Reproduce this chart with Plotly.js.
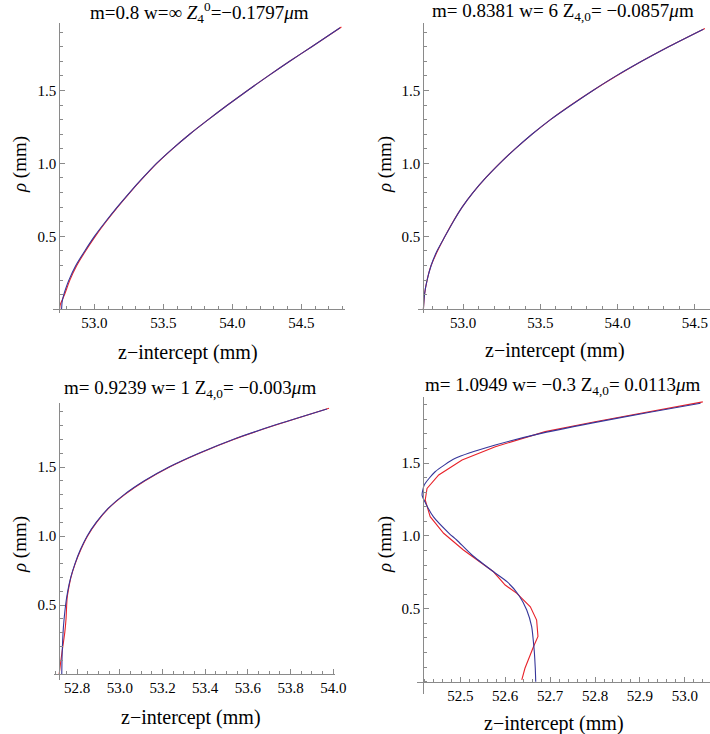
<!DOCTYPE html>
<html>
<head>
<meta charset="utf-8">
<script src="https://cdn.plot.ly/plotly-3.0.1.min.js"></script>
<style>
html,body{margin:0;padding:0;background:#fff;}
#chart{width:710px;height:734px;}
#chart svg text{font-family:"Liberation Serif","Times New Roman","DejaVu Serif",serif !important;}
</style>
</head>
<body>
<div id="chart"></div>
<script>
// ---------- data (z-intercept in mm, rho in mm) ----------
// Panel A: m=0.8 w=inf
const rhoA_blue = [0, 0.05, 0.1, 0.15, 0.2, 0.3, 0.4, 0.5, 0.6, 0.7, 0.8, 0.9, 1.0, 1.1, 1.2, 1.3, 1.4, 1.5, 1.6, 1.7, 1.8, 1.93];
const zA_blue   = [52.762, 52.766, 52.778, 52.795, 52.815, 52.865, 52.93, 53.0, 53.08, 53.165, 53.255, 53.35, 53.45, 53.565, 53.69, 53.825, 53.965, 54.11, 54.26, 54.415, 54.575, 54.78];
const rhoA_red  = [0, 0.03, 0.1, 0.2, 0.3, 0.4, 0.5, 0.6, 0.7, 0.8, 0.9, 1.0, 1.1, 1.2, 1.3, 1.4, 1.5, 1.6, 1.7, 1.8, 1.935];
const zA_red    = [52.748, 52.752, 52.783, 52.822, 52.872, 52.936, 53.006, 53.084, 53.168, 53.257, 53.352, 53.452, 53.566, 53.69, 53.825, 53.965, 54.11, 54.26, 54.415, 54.575, 54.79];
// Panel B: m=0.8381 w=6
const rhoB_blue = [0, 0.1, 0.2, 0.3, 0.4, 0.5, 0.6, 0.7, 0.8, 0.9, 1.0, 1.1, 1.2, 1.3, 1.4, 1.5, 1.6, 1.7, 1.8, 1.92];
const zB_blue   = [52.742, 52.749, 52.766, 52.792, 52.83, 52.882, 52.935, 52.993, 53.063, 53.145, 53.237, 53.336, 53.445, 53.565, 53.7, 53.84, 53.99, 54.155, 54.33, 54.555];
const rhoB_red  = [0, 0.1, 0.2, 0.3, 0.5, 0.7, 0.9, 1.1, 1.3, 1.5, 1.7, 1.8, 1.925];
const zB_red    = [52.742, 52.749, 52.766, 52.792, 52.882, 52.993, 53.145, 53.336, 53.565, 53.84, 54.155, 54.33, 54.565];
// Panel C: m=0.9239 w=1
const rhoC_blue = [0, 0.1, 0.2, 0.3, 0.4, 0.5, 0.6, 0.7, 0.8, 0.9, 1.0, 1.1, 1.2, 1.3, 1.4, 1.5, 1.6, 1.7, 1.8, 1.92];
const zC_blue   = [52.728, 52.729, 52.731, 52.734, 52.739, 52.746, 52.756, 52.77, 52.79, 52.815, 52.847, 52.89, 52.945, 53.02, 53.115, 53.23, 53.37, 53.53, 53.72, 53.97];
const rhoC_red  = [0, 0.1, 0.2, 0.3, 0.4, 0.5, 0.55, 0.6, 0.7, 0.8, 0.9, 1.0, 1.1, 1.2, 1.3, 1.4, 1.5, 1.6, 1.7, 1.8, 1.925];
const zC_red    = [52.716, 52.724, 52.733, 52.742, 52.748, 52.751, 52.753, 52.758, 52.771, 52.791, 52.817, 52.849, 52.892, 52.947, 53.023, 53.118, 53.233, 53.373, 53.533, 53.723, 53.98];
// Panel D: m=1.0949 w=-0.3
const rhoD_blue = [0, 0.092, 0.2, 0.3, 0.377, 0.492, 0.595, 0.686, 0.754, 0.869, 0.972, 1.018, 1.132, 1.223, 1.28, 1.35, 1.44, 1.532, 1.623, 1.7, 1.775, 1.85, 1.91];
const zD_blue   = [52.668, 52.667, 52.665, 52.662, 52.659, 52.648, 52.630, 52.604, 52.574, 52.526, 52.492, 52.475, 52.44, 52.423, 52.415, 52.42, 52.444, 52.489, 52.578, 52.675, 52.795, 52.925, 53.035];
const rhoD_red  = [0.012, 0.092, 0.24, 0.31, 0.423, 0.514, 0.606, 0.663, 0.754, 0.903, 1.018, 1.132, 1.246, 1.326, 1.418, 1.52, 1.612, 1.715, 1.783, 1.85, 1.919];
const zD_red    = [52.637, 52.644, 52.663, 52.673, 52.670, 52.656, 52.626, 52.6, 52.574, 52.507, 52.463, 52.433, 52.422, 52.426, 52.452, 52.504, 52.578, 52.689, 52.8, 52.92, 53.04];

const titles = [
  'm=0.8 w=∞ <i>Z</i><sub>4</sub><sup>0</sup>=−0.1797<i>μ</i>m',
  'm= 0.8381 w= 6 Z<sub>4,0</sub>= −0.0857<i>μ</i>m',
  'm= 0.9239 w= 1 Z<sub>4,0</sub>= −0.003<i>μ</i>m',
  'm= 1.0949 w= −0.3 Z<sub>4,0</sub>= 0.0113<i>μ</i>m'
];
const xTitle = 'z−intercept (mm)';
const yTitle = '<i>ρ</i> (mm)';
const yTickVals = [0.5, 1.0, 1.5];
const yTickText = ['0.5', '1.0', '1.5'];

// ---------- layout geometry (pixels) ----------
const W = 710, H = 734;
const FONT = 'Liberation Serif';
const AX = '#8a8a8a';
const BLUE = '#36369a', RED = '#e8222a';
const panels = [
  {yAx:59.3,  xL:53.3,  xR:345, xAxY:309.3, yT:23,  yB:313, xr:[52.702,54.816], ys:145.9, dt:0.5, mn:0.1,
   tx:88, ty:12, xtx:188, xty:352, ytx:20, yty:165},
  {yAx:423.3, xL:418.3, xR:710, xAxY:309.3, yT:23,  yB:313, xr:[52.709,54.598], ys:145.9, dt:0.5, mn:0.1,
   tx:430, ty:12, xtx:555, xty:350, ytx:385, yty:165},
  {yAx:59.3,  xL:54.3,  xR:335, xAxY:674,   yT:403, yB:680, xr:[52.693,54.008], ys:138,   dt:0.2, mn:0.05,
   tx:62, ty:389, xtx:191, xty:717, ytx:20, yty:545},
  {yAx:423.3, xL:416.7, xR:710, xAxY:681.7, yT:397, yB:694, xr:[52.403,53.056], ys:145.8, dt:0.1, mn:0.02,
   tx:423, ty:386, xtx:554, xty:723, ytx:385, yty:545}
];
const series = [
  [zA_red, rhoA_red, zA_blue, rhoA_blue],
  [zB_red, rhoB_red, zB_blue, rhoB_blue],
  [zC_red, rhoC_red, zC_blue, rhoC_blue],
  [zD_red, rhoD_red, zD_blue, rhoD_blue]
];

const traces = [];
const layout = {
  width: W, height: H, margin:{l:0,r:0,t:0,b:0},
  paper_bgcolor:'#fff', plot_bgcolor:'rgba(0,0,0,0)', showlegend:false,
  font:{family:FONT, color:'#000'}, annotations:[]
};
panels.forEach((p, i) => {
  const s = i === 0 ? '' : String(i + 1);
  const [zr, rr, zb, rb] = series[i];
  traces.push({x: zr, y: rr, type:'scatter', mode:'lines', xaxis:'x'+s, yaxis:'y'+s,
               line:{color:RED, width:1.1, shape: i === 3 ? 'linear' : 'spline', smoothing:0.6}, hoverinfo:'skip'});
  traces.push({x: zb, y: rb, type:'scatter', mode:'lines', xaxis:'x'+s, yaxis:'y'+s,
               line:{color:BLUE, width:1.1, shape:'spline', smoothing:0.6}, hoverinfo:'skip'});
  const common = {showline:true, linecolor:AX, linewidth:1, ticks:'inside', ticklen:5, tickcolor:AX, tickwidth:1,
    showgrid:false, zeroline:false, fixedrange:true, tickfont:{family:FONT, size:15, color:'#000'}};
  layout['xaxis'+s] = Object.assign({}, common, {
    domain:[p.xL/W, p.xR/W], range:p.xr, anchor:'free', position:1 - p.xAxY/H,
    tickmode:'linear', tick0:0, dtick:p.dt, tickformat:'.1f',
    minor:{ticks:'inside', ticklen:3, tickcolor:AX, tickmode:'linear', tick0:0, dtick:p.mn, showgrid:false}
  });
  layout['yaxis'+s] = Object.assign({}, common, {
    domain:[1 - p.yB/H, 1 - p.yT/H], range:[-(p.yB - p.xAxY)/p.ys, (p.xAxY - p.yT)/p.ys],
    anchor:'free', position:p.yAx/W,
    tickmode:'array', tickvals:yTickVals, ticktext:yTickText,
    minor:{ticks:'inside', ticklen:3, tickcolor:AX, tickmode:'linear', tick0:0, dtick:0.1, showgrid:false}
  });
  layout.annotations.push({text:titles[i], x:p.tx/W, y:1 - p.ty/H, xref:'paper', yref:'paper',
    xanchor:'left', align:'left', yanchor:'middle', showarrow:false, font:{family:FONT, size:19, color:'#000'}});
  layout.annotations.push({text:xTitle, x:p.xtx/W, y:1 - p.xty/H, xref:'paper', yref:'paper',
    xanchor:'center', yanchor:'middle', showarrow:false, font:{family:FONT, size:20, color:'#000'}});
  layout.annotations.push({text:yTitle, x:p.ytx/W, y:1 - p.yty/H, xref:'paper', yref:'paper', textangle:-90,
    xanchor:'center', yanchor:'middle', showarrow:false, font:{family:FONT, size:19, color:'#000'}});
});

Plotly.newPlot('chart', traces, layout, {displayModeBar:false, staticPlot:true});
</script>
</body>
</html>
